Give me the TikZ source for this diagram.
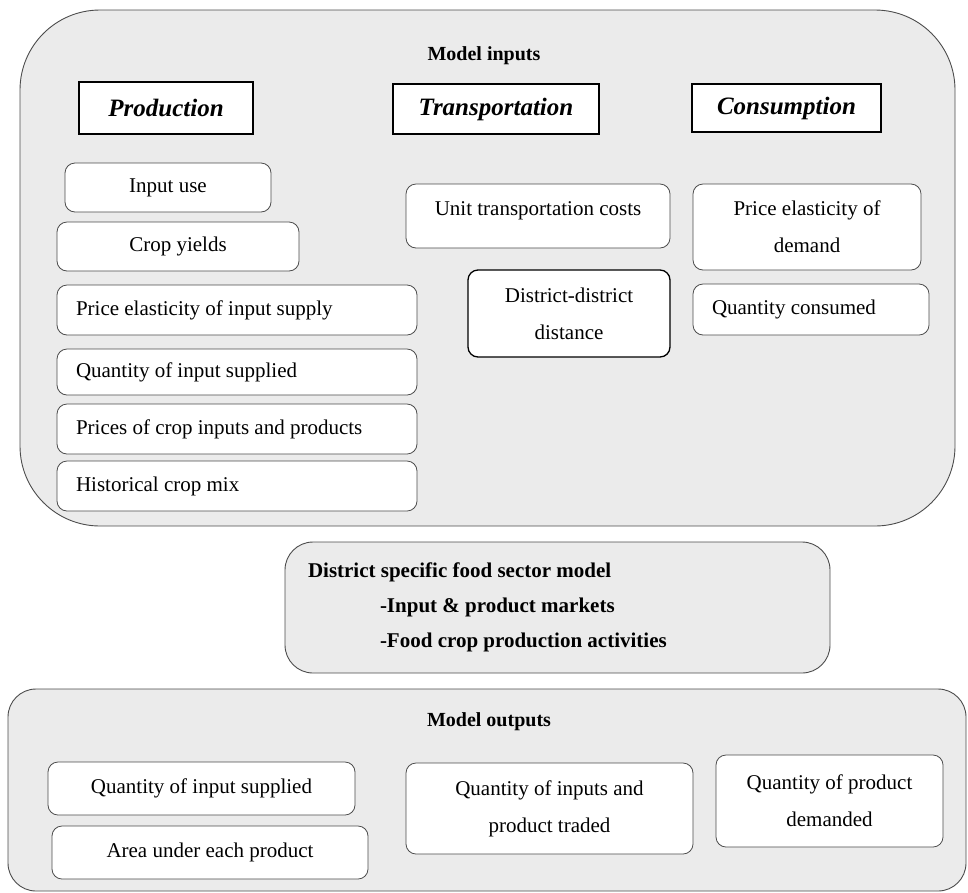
\documentclass[tikz,border=0pt]{standalone}
\usepackage{fontspec}
\setmainfont{Liberation Serif}
\begin{document}
\begin{tikzpicture}[x=1pt,y=-1pt,
  bigbox/.style={draw=black!70,line width=0.9pt,fill=black!8,inner sep=0pt},
  smallbox/.style={draw=black!70,line width=0.8pt,fill=white,rounded corners=10pt,inner sep=0pt,
    font=\fontsize{21}{37}\selectfont,align=center},
  leftbox/.style={smallbox,align=flush left,inner xsep=19pt},
  headbox/.style={draw=black,line width=2.4pt,fill=white,inner sep=0pt,
    font=\bfseries\itshape\fontsize{25}{30}\selectfont},
  title/.style={font=\bfseries\fontsize{20}{24}\selectfont,inner sep=0pt}]
\useasboundingbox (0,0) rectangle (968,892);
% Model inputs
\node[bigbox,rounded corners=80pt,minimum width=935pt,minimum height=516pt] (inbox) at (487.5,268) {};
\node[title] (inhead) at (484,56) {Model inputs};
\node[headbox,minimum width=174pt,minimum height=52pt] (prod) at (166,108) {Production};
\node[headbox,minimum width=206pt,minimum height=50pt] (trans) at (496,109) {Transportation};
\node[headbox,minimum width=189pt,minimum height=48pt] (cons) at (786.5,108) {Consumption};
% production inputs
\node[smallbox,minimum width=206pt,minimum height=49pt] (inuse) at (168,187.5) {Input use};
\node[smallbox,minimum width=242pt,minimum height=49pt] (yields) at (178,246.5) {Crop yields};
\node[leftbox,text width=322pt,minimum height=50pt] (pelas) at (237,310) {Price elasticity of input supply};
\node[leftbox,text width=322pt,minimum height=46pt] (qis) at (237,372) {Quantity of input supplied};
\node[leftbox,text width=322pt,minimum height=50pt] (prices) at (237,429) {Prices of crop inputs and products};
\node[leftbox,text width=322pt,minimum height=50pt] (hist) at (237,486) {Historical crop mix};
% transportation inputs
\node[smallbox,minimum width=264pt,minimum height=64pt,text height=31pt,text depth=33pt] (unit) at (538,216) {Unit transportation costs};
\node[smallbox,draw=black,line width=1.3pt,minimum width=202pt,minimum height=87pt] (dist) at (569,313.5) {District-district\\distance};
% consumption inputs
\node[smallbox,minimum width=228pt,minimum height=86pt] (ped) at (807,227) {Price elasticity of\\demand};
\node[leftbox,text width=198pt,minimum height=51pt] (qc) at (811,309.5) {Quantity consumed};
% middle model
\node[bigbox,rounded corners=28pt,minimum height=131pt,text width=499pt,inner xsep=23pt,align=flush left,
  font=\bfseries\fontsize{21}{35}\selectfont] (mid) at (557.5,607.5)
  {District specific food sector model\\\hspace*{72pt}-Input \& product markets\\\hspace*{72pt}-Food crop production activities};
% Model outputs
\node[bigbox,rounded corners=28pt,minimum width=958pt,minimum height=202pt] (outbox) at (487,790) {};
\node[title] (outhead) at (489,722) {Model outputs};
\node[smallbox,minimum width=307pt,minimum height=53pt] (oqis) at (201.5,788.5) {Quantity of input supplied};
\node[smallbox,minimum width=316pt,minimum height=53pt] (area) at (210,852.5) {Area under each product};
\node[smallbox,minimum width=287pt,minimum height=91pt] (traded) at (549.5,808.5) {Quantity of inputs and\\product traded};
\node[smallbox,minimum width=227pt,minimum height=92pt] (demanded) at (829.5,801) {Quantity of product\\demanded};
\end{tikzpicture}
\end{document}
